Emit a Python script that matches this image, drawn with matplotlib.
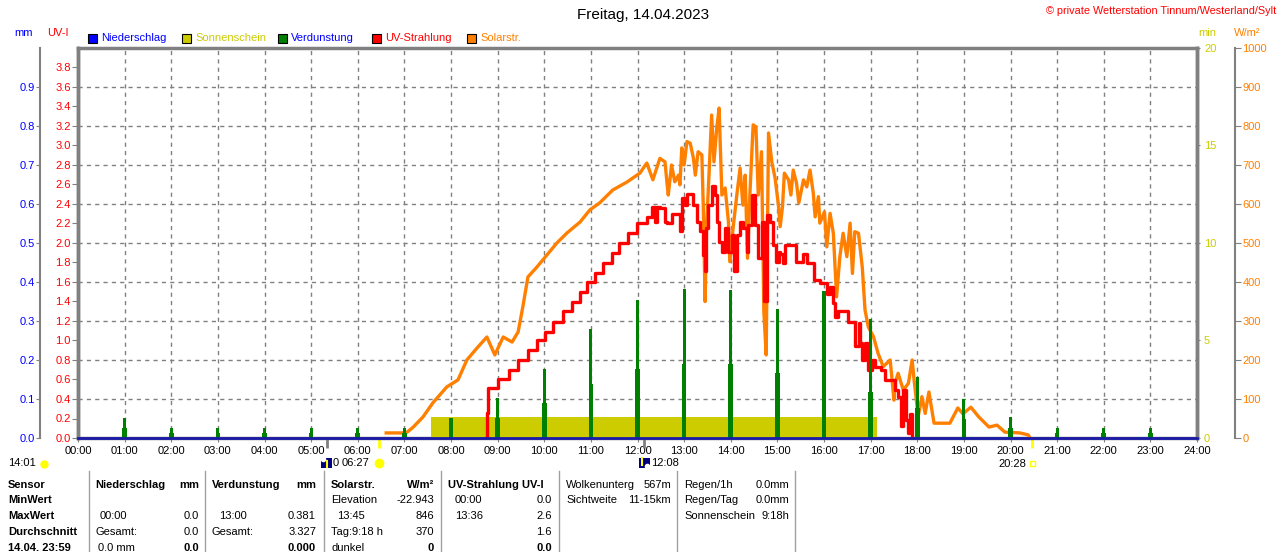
"""
Daily weather station chart: rain, sunshine, evaporation, UV and solar radiation.
"""

import matplotlib
matplotlib.use("Agg")
import matplotlib.pyplot as plt
import matplotlib.patches as mpatches
from matplotlib.lines import Line2D
import numpy as np

plt.rcParams['font.family'] = ['Liberation Sans', 'DejaVu Sans']
plt.rcParams['font.size'] = 8

W, H = 1280, 552

# ---- data ----
hours = list(range(25))
hour_labels = ["%02d:00" % h for h in hours]

mm_ticks = [0.0, 0.1, 0.2, 0.3, 0.4, 0.5, 0.6, 0.7, 0.8, 0.9]
uv_ticks = [0.0, 0.2, 0.4, 0.6, 0.8, 1.0, 1.2, 1.4, 1.6, 1.8, 2.0,
            2.2, 2.4, 2.6, 2.8, 3.0, 3.2, 3.4, 3.6, 3.8]
min_ticks = [0, 5, 10, 15, 20]
wm2_ticks = [0, 100, 200, 300, 400, 500, 600, 700, 800, 900, 1000]

# sunshine (minutes per minute), one block
sun_start = 7.57
sun_end = 17.13
sun_minutes = 1.08

# evaporation per hour (mm): spike and lower shoulder
evap_hours = list(range(1, 24))
evap_peak = [0.052, 0.026, 0.026, 0.026, 0.026, 0.026, 0.026, 0.052, 0.103,
             0.178, 0.280, 0.354, 0.381, 0.380, 0.330, 0.378, 0.305, 0.157,
             0.100, 0.053, 0.026, 0.026, 0.026]
evap_low = [0.026, 0.013, 0.013, 0.013, 0.013, 0.013, 0.013, 0.026, 0.052,
            0.090, 0.138, 0.177, 0.190, 0.190, 0.166, 0.190, 0.118, 0.077,
            0.050, 0.026, 0.013, 0.013, 0.013]

# rain (mm)
rain_t = [0, 24]
rain_mm = [0.0, 0.0]

# UV index (step values)
uv_t = [8.76, 8.77, 8.79, 9.01, 9.24, 9.44, 9.65, 9.84, 10.02, 10.19, 10.40,
        10.60, 10.77, 10.92, 11.09, 11.26, 11.45, 11.60, 11.80, 11.99, 12.20,
        12.31, 12.38, 12.42, 12.48, 12.59, 12.63, 12.73, 12.91, 12.95, 13.02,
        13.06, 13.20, 13.27, 13.34, 13.40, 13.44, 13.47, 13.52, 13.59, 13.66,
        13.71, 13.75, 13.81, 13.88, 13.95, 14.02, 14.06, 14.13, 14.20, 14.27,
        14.34, 14.38, 14.45, 14.52, 14.59, 14.66, 14.71, 14.77, 14.84, 14.91,
        14.98, 15.03, 15.06, 15.12, 15.17, 15.41, 15.56, 15.63, 15.79, 15.91,
        16.06, 16.13, 16.20, 16.24, 16.31, 16.52, 16.67, 16.74, 16.77, 16.82,
        16.88, 16.95, 17.02, 17.09, 17.23, 17.30, 17.52, 17.59, 17.65, 17.70,
        17.75, 17.81, 17.85, 17.89]
uv_val = [0.0, 0.26, 0.51, 0.60, 0.70, 0.80, 0.90, 1.00, 1.09, 1.19, 1.30,
          1.39, 1.50, 1.60, 1.69, 1.79, 1.90, 2.00, 2.10, 2.20, 2.27,
          2.37, 2.22, 2.37, 2.36, 2.22, 2.20, 2.30, 2.12, 2.46, 2.39,
          2.50, 2.39, 2.22, 2.12, 1.88, 1.71, 2.15, 2.39, 2.58, 2.49,
          2.22, 2.01, 1.91, 2.15, 1.91, 2.08, 1.71, 2.08, 2.22, 2.15,
          1.91, 2.18, 2.49, 2.18, 1.85, 2.22, 1.40, 2.29, 2.22, 1.98,
          1.81, 1.91, 1.89, 1.79, 1.98, 1.81, 1.89, 1.79, 1.62, 1.59,
          1.48, 1.55, 1.38, 1.24, 1.30, 1.19, 0.94, 1.18, 0.97, 0.80,
          0.97, 0.70, 0.80, 0.73, 0.70, 0.59, 0.49, 0.42, 0.12, 0.49,
          0.18, 0.05, 0.25, 0.0]

# solar radiation (W/m2)
solar_t = [6.61, 6.95, 7.06, 7.19, 7.40, 7.61, 7.91, 8.15, 8.34, 8.56, 8.77,
           8.94, 9.12, 9.31, 9.44, 9.54, 9.65, 9.84, 10.02, 10.27, 10.49,
           10.77, 10.98, 11.19, 11.47, 11.77, 12.05, 12.20, 12.33, 12.48,
           12.59, 12.63, 12.66, 12.73, 12.80, 12.88, 12.91, 12.95, 13.00,
           13.06, 13.13, 13.20, 13.24, 13.30, 13.38, 13.41, 13.45, 13.48,
           13.54, 13.59, 13.64, 13.70, 13.75, 13.81, 13.88, 13.95, 13.98,
           14.05, 14.13, 14.20, 14.26, 14.31, 14.36, 14.41, 14.48, 14.54,
           14.59, 14.66, 14.71, 14.76, 14.81, 14.88, 14.95, 15.02, 15.06,
           15.11, 15.15, 15.24, 15.29, 15.34, 15.41, 15.46, 15.56, 15.63,
           15.70, 15.77, 15.81, 15.88, 15.91, 16.01, 16.06, 16.13, 16.20,
           16.27, 16.34, 16.41, 16.49, 16.56, 16.61, 16.66, 16.74, 16.82,
           16.88, 16.95, 17.06, 17.16, 17.27, 17.42, 17.50, 17.52, 17.59,
           17.70, 17.81, 17.89, 17.94, 18.02, 18.10, 18.17, 18.25, 18.36,
           18.70, 18.87, 18.98, 19.15, 19.32, 19.54, 19.71, 19.88, 20.20,
           20.38, 20.42]
solar_val = [13, 13, 15, 28, 54, 90, 131, 149, 200, 231, 259,
             213, 259, 246, 272, 336, 413, 438, 464, 500, 526,
             554, 585, 603, 636, 656, 679, 705, 662, 717,
             708, 657, 623, 700, 657, 674, 649, 744, 700,
             760, 756, 717, 674, 734, 726, 597, 350, 538,
             692, 828, 708, 795, 846, 623, 641, 555, 452,
             538, 623, 692, 597, 674, 461, 623, 803, 798,
             623, 734, 324, 213, 782, 708, 667, 600, 542,
             593, 679, 662, 623, 687, 654, 603, 662, 644,
             687, 628, 567, 619, 551, 580, 490, 576, 525,
             362, 465, 525, 465, 551, 422, 529, 525, 439,
             328, 285, 260, 217, 183, 200, 97, 140, 166,
             123, 140, 200, 140, 55, 106, 63, 118, 38,
             38, 77, 62, 79, 54, 28, 33, 15, 13,
             8, 0]

# astronomical marks below the time axis
mark_times = [5.33, 6.45, 12.13, 20.47]
mark_colors = ['#808080', '#ffff00', '#808080', '#ffff00']

GRAY = '#808080'
BLUE = '#0000ff'
YEL = '#cccc00'
GREEN = '#008000'
RED = '#ff0000'
ORANGE = '#ff8000'


def fx(x):
    return x / W


def fy(y):
    return 1 - y / H


fig = plt.figure(figsize=(W / 100, H / 100), dpi=100)
rect = [fx(78), fy(438), 1119 / W, 390 / H]

# background axes: grid, frame and time axis
bg = fig.add_axes(rect)
bg.set_zorder(0)
bg.set_xlim(0, 24)
bg.set_ylim(0, 1)
bg.set_xticks(hours)
bg.set_xticklabels(hour_labels)
bg.set_yticks(np.arange(0.1, 1.0, 0.1))
bg.grid(True, color=GRAY, linestyle=(0, (3, 3)), linewidth=1)
bg.tick_params(axis='y', length=0, labelleft=False)
bg.tick_params(axis='x', length=3, color=GRAY, pad=3, labelsize=8)
for s in bg.spines.values():
    s.set_color(GRAY)
    s.set_linewidth(2.5)

# sunshine minutes
ax_sun = bg.twinx()
ax_sun.set_zorder(1)
ax_sun.set_ylim(0, 20)
ax_sun.set_yticks(min_ticks)
ax_sun.tick_params(axis='y', length=2, pad=3, color=GRAY, labelcolor=YEL)
for k, s in ax_sun.spines.items():
    s.set_visible(k == 'right')
ax_sun.spines['right'].set_color(GRAY)
ax_sun.spines['right'].set_linewidth(2.5)
ax_sun.bar(sun_start, sun_minutes, width=sun_end - sun_start, align='edge',
           color=YEL, linewidth=0)

# solar radiation
ax_sol = bg.twinx()
ax_sol.set_zorder(2)
ax_sol.set_ylim(0, 1000)
ax_sol.set_yticks(wm2_ticks)
ax_sol.spines['right'].set_position(('outward', 27.4))
for k, s in ax_sol.spines.items():
    s.set_visible(k == 'right')
ax_sol.spines['right'].set_color(GRAY)
ax_sol.spines['right'].set_linewidth(1.5)
ax_sol.tick_params(axis='y', length=4.3, pad=1, color=GRAY, labelcolor=ORANGE)
ax_sol.plot(solar_t, solar_val, color=ORANGE, linewidth=2.4)

# UV index
ax_uv = bg.twinx()
ax_uv.set_zorder(3)
ax_uv.yaxis.tick_left()
ax_uv.set_ylim(0, 4)
ax_uv.set_yticks(uv_ticks)
ax_uv.set_yticklabels(["%.1f" % v for v in uv_ticks])
for k, s in ax_uv.spines.items():
    s.set_visible(k == 'left')
ax_uv.spines['left'].set_color(GRAY)
ax_uv.spines['left'].set_linewidth(2.5)
ax_uv.tick_params(axis='y', length=4.3, pad=1, color=GRAY, labelcolor=RED)
ax_uv.step(uv_t, uv_val, where='post', color=RED, linewidth=2.4)

# evaporation and rain (mm)
ax_mm = bg.twinx()
ax_mm.set_zorder(4)
ax_mm.yaxis.tick_left()
ax_mm.set_ylim(0, 1)
ax_mm.set_yticks(mm_ticks)
ax_mm.set_yticklabels(["%.1f" % v for v in mm_ticks])
ax_mm.spines['left'].set_position(('outward', 27.4))
for k, s in ax_mm.spines.items():
    s.set_visible(k == 'left')
ax_mm.spines['left'].set_color(GRAY)
ax_mm.spines['left'].set_linewidth(1.5)
ax_mm.tick_params(axis='y', length=2.9, pad=1, color=GRAY, labelcolor=BLUE)
ax_mm.bar(evap_hours, evap_low, width=0.1, color=GREEN, linewidth=0)
ax_mm.bar(evap_hours, evap_peak, width=0.065, color=GREEN, linewidth=0)
ax_mm.plot(rain_t, rain_mm, color='#1a1aa8', linewidth=2, clip_on=False)

# marks for sun/moon rise and set
bg.vlines(mark_times, -0.026, 0, colors=mark_colors, linewidth=2,
          transform=bg.get_xaxis_transform(), clip_on=False)

# ---- header ----
fig.text(fx(643), fy(15), "Freitag, 14.04.2023", ha='center', va='center',
         fontsize=11)
fig.text(fx(1276), fy(11), "\u00a9 private Wetterstation Tinnum/Westerland/Sylt",
         ha='right', va='center', fontsize=7.8, color=RED)
fig.text(fx(14), fy(33), "mm", color=BLUE, va='center', fontsize=8)
fig.text(fx(47), fy(33), "UV-I", color=RED, va='center', fontsize=8)
fig.text(fx(1198), fy(33), "min", color=YEL, va='center', fontsize=8)
fig.text(fx(1234), fy(33), "W/m\u00b2", color=ORANGE, va='center', fontsize=8)

legend_items = [
    (88, BLUE, "Niederschlag", BLUE),
    (182, YEL, "Sonnenschein", YEL),
    (278, GREEN, "Verdunstung", BLUE),
    (372, RED, "UV-Strahlung", RED),
    (467, ORANGE, "Solarstr.", ORANGE),
]
for x0, fc, txt, tc in legend_items:
    fig.add_artist(mpatches.Rectangle((fx(x0), fy(43)), 9 / W, 9 / H,
                                      transform=fig.transFigure,
                                      facecolor=fc, edgecolor='black', lw=0.8))
    fig.text(fx(x0 + 13), fy(38), txt, color=tc, va='center', fontsize=8)

# ---- sun / moon times under the axis ----
fig.text(fx(8), fy(463), "14:01", va='center', fontsize=8)
fig.add_artist(Line2D([fx(44)], [fy(464)], marker='o', markersize=5,
                      color='#ffff00', transform=fig.transFigure))
fig.add_artist(mpatches.Rectangle((fx(321), fy(468)), 11 / W, 10 / H,
                                  transform=fig.transFigure, facecolor='#000080',
                                  edgecolor='none', zorder=5))
fig.add_artist(Line2D([fx(327), fx(327)], [fy(467), fy(461)], color='#ffff00',
                      lw=1.5, transform=fig.transFigure, zorder=6))
fig.add_artist(Line2D([fx(323)], [fy(459)], marker='o', markersize=3,
                      color='white', transform=fig.transFigure, zorder=6))
fig.text(fx(333), fy(463), "0", va='center', fontsize=8)
fig.text(fx(342), fy(463), "06:27", va='center', fontsize=8)
fig.add_artist(Line2D([fx(379)], [fy(463)], marker='o', markersize=6,
                      color='#ffff00', transform=fig.transFigure))
fig.add_artist(mpatches.Rectangle((fx(639), fy(468)), 11 / W, 10 / H,
                                  transform=fig.transFigure, facecolor='#000080',
                                  edgecolor='none', zorder=5))
fig.add_artist(Line2D([fx(642), fx(642)], [fy(458), fy(465)], color='#ffff00',
                      lw=1.5, transform=fig.transFigure, zorder=6))
fig.add_artist(Line2D([fx(647)], [fy(466)], marker='o', markersize=3,
                      color='white', transform=fig.transFigure, zorder=6))
fig.text(fx(651), fy(463), "12:08", va='center', fontsize=8)
fig.text(fx(998), fy(464), "20:28", va='center', fontsize=8)
fig.add_artist(mpatches.Rectangle((fx(1030), fy(466)), 5 / W, 5 / H,
                                  transform=fig.transFigure, facecolor='none',
                                  edgecolor='#ffff00', lw=1))

# ---- summary table ----
rows_y = [485, 500, 516, 532, 548]
for xs in [89, 205, 324, 441, 559, 677, 795]:
    fig.add_artist(Line2D([fx(xs), fx(xs)], [fy(471), fy(552)], color='#a0a0a0',
                          lw=1, transform=fig.transFigure))

sensor_col = ["Sensor", "MinWert", "MaxWert", "Durchschnitt", "14.04. 23:59"]
for r, t in enumerate(sensor_col):
    fig.text(fx(8), fy(rows_y[r]), t, va='center', fontweight='bold', fontsize=8)

# (row, x_left, left text, x_right, right text, bold)
cells = [
    (0, 95, "Niederschlag", 199, "mm", True),
    (2, 100, "00:00", 199, "0.0", False),
    (3, 95, "Gesamt:", 199, "0.0", False),
    (4, 98, "0.0 mm", 199, "", False),
    (0, 212, "Verdunstung", 316, "mm", True),
    (2, 219, "13:00", 316, "0.381", False),
    (3, 212, "Gesamt:", 316, "3.327", False),
    (0, 331, "Solarstr.", 434, "W/m\u00b2", True),
    (1, 331, "Elevation", 434, "-22.943", False),
    (2, 337, "13:45", 434, "846", False),
    (3, 331, "Tag:9:18 h", 434, "370", False),
    (4, 331, "dunkel", 434, "", False),
    (0, 448, "UV-Strahlung UV-I", 552, "", True),
    (1, 455, "00:00", 552, "0.0", False),
    (2, 455, "13:36", 552, "2.6", False),
    (3, 455, "", 552, "1.6", False),
    (0, 566, "Wolkenunterg", 671, "567m", False),
    (1, 566, "Sichtweite", 671, "11-15km", False),
    (0, 684, "Regen/1h", 789, "0.0mm", False),
    (1, 684, "Regen/Tag", 789, "0.0mm", False),
    (2, 684, "Sonnenschein", 789, "9:18h", False),
]
for r, xl, tl, xr, tr, bold in cells:
    w = 'bold' if bold else 'normal'
    fig.text(fx(xl), fy(rows_y[r]), tl, va='center', fontsize=8, fontweight=w)
    fig.text(fx(xr), fy(rows_y[r]), tr, va='center', ha='right', fontsize=8,
             fontweight=w)

# bold totals in the last row
for xr, tr in [(199, "0.0"), (316, "0.000"), (434, "0"), (552, "0.0")]:
    fig.text(fx(xr), fy(rows_y[4]), tr, va='center', ha='right', fontsize=8,
             fontweight='bold')

fig.savefig("out.png", dpi=100)
